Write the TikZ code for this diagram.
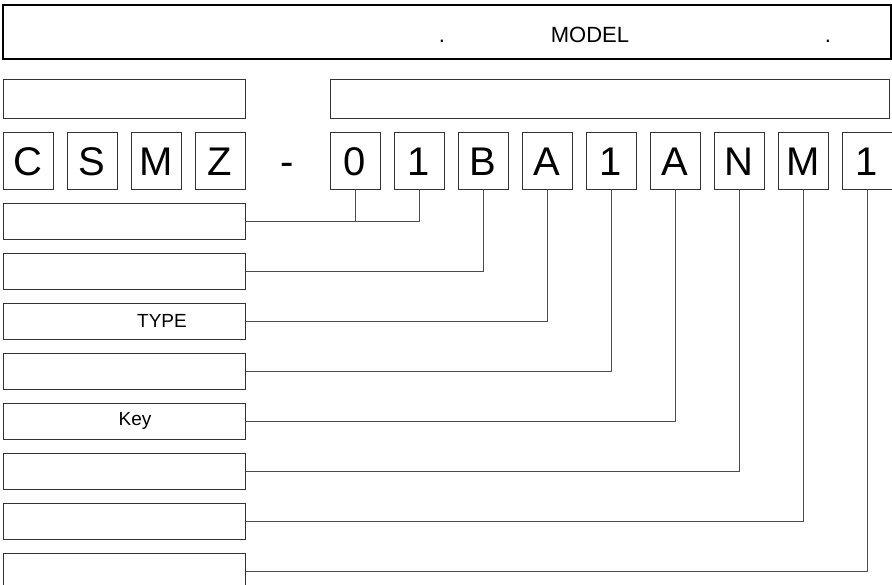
\documentclass[tikz,border=0pt]{standalone}
\usepackage{fontspec}
\setmainfont{Liberation Sans}

\begin{document}
\begin{tikzpicture}[x=1pt, y=-1pt,
    bigchar/.style={font=\fontsize{40}{40}\selectfont, text height=29pt, text depth=0pt, inner sep=0pt},
    charbox/.style={bigchar, draw=black!80, line width=1pt, minimum width=50pt, minimum height=57pt},
    fieldbox/.style={draw=black!80, line width=1pt, inner sep=0pt, minimum width=242pt, minimum height=36pt},
    wire/.style={draw=black!70, line width=1pt},
    smalltext/.style={font=\fontsize{19}{19}\selectfont, inner sep=0pt},
    headtext/.style={font=\fontsize{22}{22}\selectfont, inner sep=0pt, anchor=base}]
  \useasboundingbox (0,0) rectangle (892,584);
  % header
  \node[draw=black, line width=2pt, minimum width=888pt, minimum height=54pt, inner sep=0pt] (head) at (447,32) {};
  \node[headtext] (dotl) at (442,42) {.};
  \node[headtext] (model) at (590,42) {MODEL};
  \node[headtext] (dotr) at (828,42) {.};
  \node[draw=black!80, line width=1pt, minimum width=242pt, minimum height=39pt, inner sep=0pt] (subl) at (124,98.5) {};
  \node[draw=black!80, line width=1pt, minimum width=559pt, minimum height=39pt, inner sep=0pt] (subr) at (609.5,98.5) {};
  % code characters
  \node[charbox] (c0) at (28,160.5) {C};
  \node[charbox] (c1) at (92,160.5) {S};
  \node[charbox] (c2) at (156,160.5) {M};
  \node[charbox] (c3) at (220,160.5) {Z};
  \node[bigchar] (dash) at (287,160.5) {-};
  \node[charbox] (c5) at (355,160.5) {0};
  \node[charbox] (c6) at (419,160.5) {1};
  \node[charbox] (c7) at (483,160.5) {B};
  \node[charbox] (c8) at (547,160.5) {A};
  \node[charbox] (c9) at (611,160.5) {1};
  \node[charbox] (c10) at (675,160.5) {A};
  \node[charbox] (c11) at (739,160.5) {N};
  \node[charbox] (c12) at (803,160.5) {M};
  \node[charbox] (c13) at (867,160.5) {1};
  % field boxes
  \node[fieldbox] (f0) at (124,221) {};
  \node[fieldbox] (f1) at (124,271) {};
  \node[fieldbox] (f2) at (124,321) {};
  \node[smalltext] (ftype) at (162,321) {TYPE};
  \node[fieldbox] (f3) at (124,371) {};
  \node[fieldbox] (f4) at (124,421) {};
  \node[smalltext] (fkey) at (135,421) {Key};
  \node[fieldbox] (f5) at (124,471) {};
  \node[fieldbox] (f6) at (124,521) {};
  \node[fieldbox] (f7) at (124,571) {};
  % connectors
  \draw[wire] (f0.east) -| (c6.south);
  \draw[wire] (c5.south) -- (c5.south |- f0.east);
  \draw[wire] (f1.east) -| (c7.south);
  \draw[wire] (f2.east) -| (c8.south);
  \draw[wire] (f3.east) -| (c9.south);
  \draw[wire] (f4.east) -| (c10.south);
  \draw[wire] (f5.east) -| (c11.south);
  \draw[wire] (f6.east) -| (c12.south);
  \draw[wire] (f7.east) -| (c13.south);
\end{tikzpicture}
\end{document}
